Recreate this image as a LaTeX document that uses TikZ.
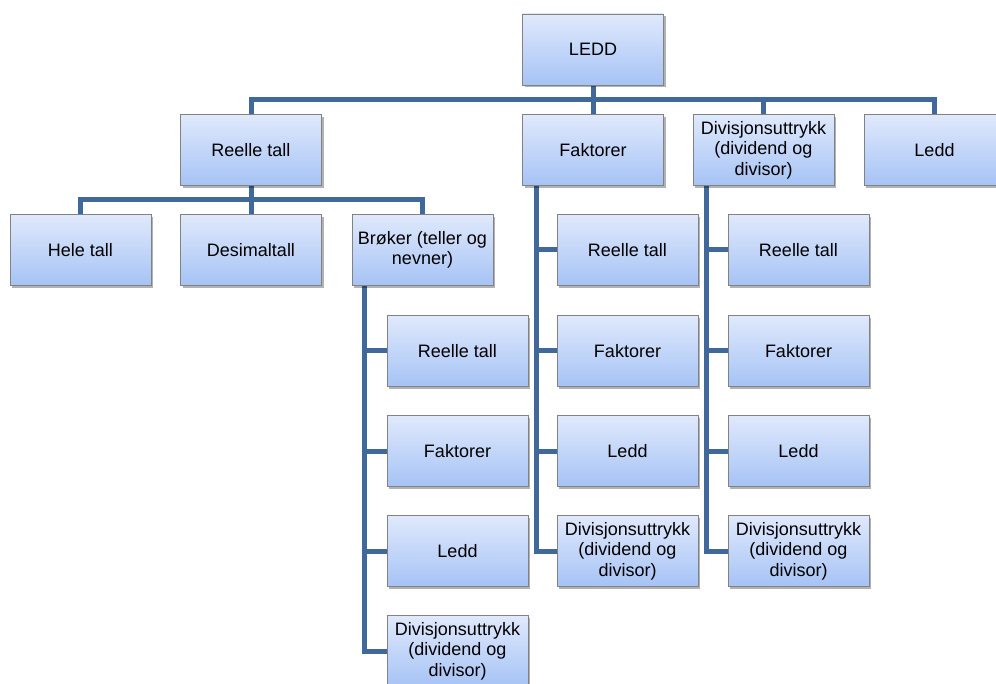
\documentclass[tikz,border=0pt]{standalone}
\usepackage{fontspec}
\setmainfont{Liberation Sans}
\usetikzlibrary{shadows,calc}
\definecolor{linkblue}{RGB}{64,104,155}
\definecolor{boxtop}{RGB}{224,233,252}
\definecolor{boxbot}{RGB}{166,195,245}
\definecolor{boxrim}{RGB}{130,130,130}
% connectors sit on a layer behind the boxes
\pgfdeclarelayer{bg}
\pgfsetlayers{bg,main}
\begin{document}
\begin{tikzpicture}[x=1pt,y=-1pt,
  box/.style={draw=boxrim, line width=0.8pt, minimum width=141pt, minimum height=71pt,
    inner sep=0pt, align=center, top color=boxtop, bottom color=boxbot,
    font=\fontsize{18}{20.5}\selectfont,
    drop shadow={shadow xshift=2pt, shadow yshift=-2.5pt, opacity=0.3, fill=black}},
  conn/.style={draw=linkblue, line width=5pt, line join=miter}]
\useasboundingbox (0,0) rectangle (996,684);
\clip (0,0) rectangle (996,684);

\coordinate (bar1) at (593,100);
\coordinate (bar2) at (251,200);

% top level
\node[box] (root) at (593,49.5) {LEDD};
\node[box] (rt) at (251,150) {Reelle tall};
\node[box] (fk) at (593,150) {Faktorer};
\node[box] (dv) at (763.5,150) {Divisjonsuttrykk\\(dividend og\\divisor)};
\node[box] (ld) at (934.5,150) {Ledd};

% under Reelle tall
\node[box] (ht) at (80.5,250) {Hele tall};
\node[box] (dt) at (251,250) {Desimaltall};
\node[box] (br) at (422.5,250) {Brøker (teller og\\nevner)};

% under Brøker
\node[box] (b1) at (457.5,351) {Reelle tall};
\node[box] (b2) at (457.5,451) {Faktorer};
\node[box] (b3) at (457.5,551) {Ledd};
\node[box] (b4) at (457.5,651) {Divisjonsuttrykk\\(dividend og\\divisor)};

% under Faktorer
\node[box] (f1) at (627.5,250) {Reelle tall};
\node[box] (f2) at (627.5,351) {Faktorer};
\node[box] (f3) at (627.5,451) {Ledd};
\node[box] (f4) at (627.5,551) {Divisjonsuttrykk\\(dividend og\\divisor)};

% under Divisjonsuttrykk
\node[box] (d1) at (798.5,250) {Reelle tall};
\node[box] (d2) at (798.5,351) {Faktorer};
\node[box] (d3) at (798.5,451) {Ledd};
\node[box] (d4) at (798.5,551) {Divisjonsuttrykk\\(dividend og\\divisor)};

\begin{pgfonlayer}{bg}
  \draw[conn] (root.south) -- (bar1);
  \draw[conn] (rt.north) |- (bar1) -| (ld.north);
  \draw[conn] (fk.north) -- (fk.north |- bar1);
  \draw[conn] (dv.north) -- (dv.north |- bar1);

  \draw[conn] (rt.south) -- (bar2);
  \draw[conn] (ht.north) |- (bar2) -| (br.north);
  \draw[conn] (dt.north) -- (dt.north |- bar2);

  \coordinate (bk) at ($(br.south west)+(13,0)$);
  \draw[conn] (bk) |- (b4.west);
  \foreach \n in {b1,b2,b3} \draw[conn] (bk |- \n.west) -- (\n.west);

  \coordinate (fkk) at ($(fk.south west)+(14,0)$);
  \draw[conn] (fkk) |- (f4.west);
  \foreach \n in {f1,f2,f3} \draw[conn] (fkk |- \n.west) -- (\n.west);

  \coordinate (dvk) at ($(dv.south west)+(14,0)$);
  \draw[conn] (dvk) |- (d4.west);
  \foreach \n in {d1,d2,d3} \draw[conn] (dvk |- \n.west) -- (\n.west);
\end{pgfonlayer}
\end{tikzpicture}
\end{document}
